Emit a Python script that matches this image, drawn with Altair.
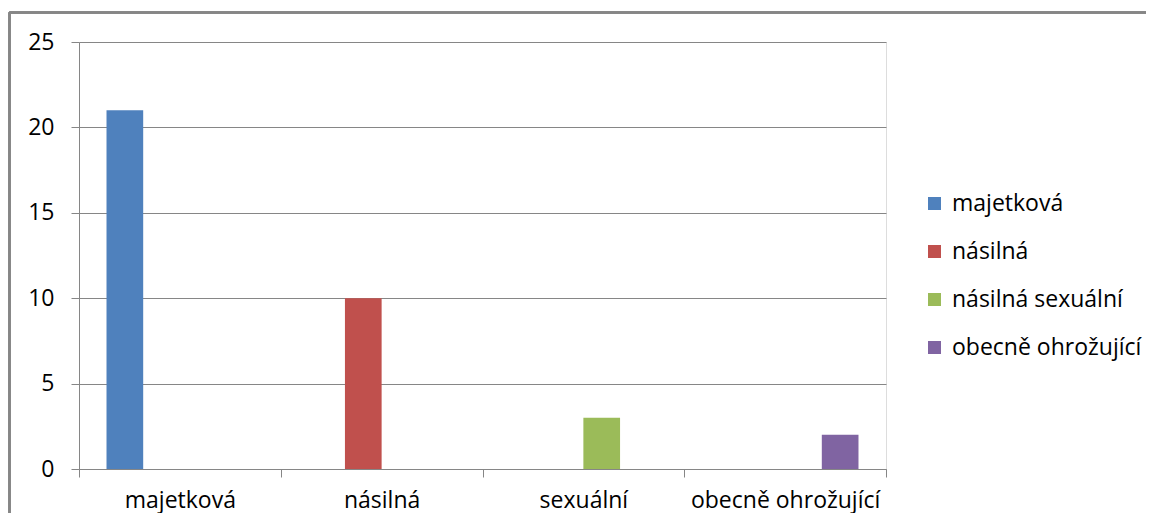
import altair as alt
import pandas as pd

categories = ["majetková", "násilná", "sexuální", "obecně ohrožující"]
series = ["majetková", "násilná", "násilná sexuální", "obecně ohrožující"]
values_majetkova = [21, 0, 0, 0]
values_nasilna = [0, 10, 0, 0]
values_sexualni = [0, 0, 3, 0]
values_obecne = [0, 0, 0, 2]
colors = ["#4F81BD", "#C0504D", "#9BBB59", "#8064A2"]

rows = []
for s, vals in zip(series, [values_majetkova, values_nasilna, values_sexualni, values_obecne]):
    for c, v in zip(categories, vals):
        rows.append({"kategorie": c, "serie": s, "hodnota": v})
df = pd.DataFrame(rows)

FONT = "Open Sans"
FS = 23
GRAY = "#868686"
W, H = 807, 427
PAD = {"left": 71, "top": 34, "right": 262, "bottom": 44}

bars = alt.Chart(df).mark_bar().encode(
    x=alt.X("kategorie:N", sort=categories,
            scale=alt.Scale(paddingInner=0, paddingOuter=0),
            axis=alt.Axis(title=None, labelAngle=0, tickBand="extent", grid=False,
                          domainColor=GRAY, tickColor=GRAY, tickSize=8,
                          labelPadding=12, labelFontSize=FS, labelColor="#000000",
                          labelFont=FONT, labelLimit=400)),
    xOffset=alt.XOffset("serie:N", sort=series,
                        scale=alt.Scale(paddingInner=0, paddingOuter=0.75)),
    y=alt.Y("hodnota:Q", scale=alt.Scale(domain=[0, 25], nice=False),
            axis=alt.Axis(title=None, values=[0, 5, 10, 15, 20, 25], grid=True,
                          gridColor=GRAY, gridWidth=1, domainColor=GRAY,
                          tickColor=GRAY, tickSize=8, labelPadding=17,
                          labelFontSize=FS, labelColor="#000000", labelFont=FONT)),
    color=alt.Color("serie:N", sort=series,
                    scale=alt.Scale(domain=series, range=colors),
                    legend=alt.Legend(title=None, orient="none", legendX=844, legendY=150,
                                      symbolType="square", symbolSize=169,
                                      symbolStrokeWidth=0, labelFontSize=FS,
                                      labelFont=FONT, labelColor="#000000",
                                      labelOffset=6, rowPadding=24, labelLimit=400)),
)

border_top = alt.Chart(df).mark_rule(color=GRAY, strokeWidth=1.5, clip=False).encode(
    x=alt.value(-69.5), x2=alt.value(W + PAD["right"] - 2), y=alt.value(-29.5)
)
border_left = alt.Chart(df).mark_rule(color=GRAY, strokeWidth=1.5, clip=False).encode(
    x=alt.value(-69.5), y=alt.value(-29.5), y2=alt.value(H + PAD["bottom"])
)

chart = alt.layer(border_top, border_left, bars).properties(
    width=W, height=H,
    autosize=alt.AutoSizeParams(type="none"),
    padding=PAD,
).configure_view(stroke=None).configure(font=FONT)

chart.save("out.html", embed_options={"renderer": "svg", "actions": False})
